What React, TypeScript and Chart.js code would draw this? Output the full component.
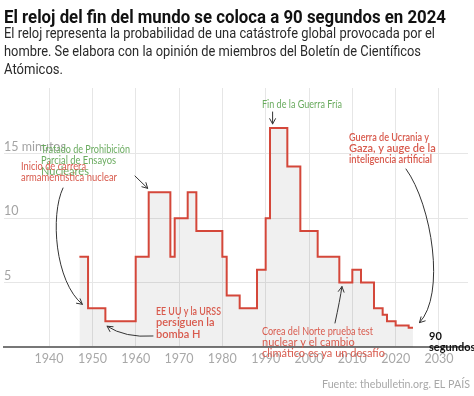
import React, { useEffect, useRef } from 'react';
import { Chart, registerables } from 'chart.js';
Chart.register(...registerables);

const years = [1947, 1949, 1953, 1960, 1963, 1968, 1969, 1972, 1974, 1980, 1981, 1984, 1988, 1990, 1991, 1995, 1998, 2002, 2007, 2010, 2012, 2015, 2017, 2018, 2020, 2023, 2024];
const minutes = [7, 3, 2, 7, 12, 7, 10, 12, 9, 7, 4, 3, 6, 10, 17, 14, 9, 7, 5, 6, 5, 3, 2.5, 2, 1.67, 1.5, 1.5];
const xTicks = [1940, 1950, 1960, 1970, 1980, 1990, 2000, 2010, 2020, 2030];
const yTicks = [5, 10, 15];
const yTickLabels = ['5', '10', '15 minutos'];

const TITLE = 'El reloj del fin del mundo se coloca a 90 segundos en 2024';
const SUBTITLE = [
  'El reloj representa la probabilidad de una catástrofe global provocada por el',
  'hombre. Se elabora con la opinión de miembros del Boletín de Científicos',
  'Atómicos.',
];
const SOURCE = 'Fuente: thebulletin.org. EL PAÍS';

const RED_LINE = '#d4473a';
const RED_TEXT = '#d85a4d';
const GREEN_TEXT = '#6aab5f';

function fitText(ctx: CanvasRenderingContext2D, text: string, x: number, y: number, targetW?: number) {
  if (!targetW) {
    ctx.fillText(text, x, y);
    return;
  }
  const w = ctx.measureText(text).width;
  ctx.save();
  ctx.translate(x, y);
  ctx.scale(targetW / w, 1);
  ctx.fillText(text, 0, 0);
  ctx.restore();
}

function arrowHead(ctx: CanvasRenderingContext2D, tx: number, ty: number, dx: number, dy: number) {
  const a = Math.atan2(dy, dx);
  const L = 6;
  const s = 0.5;
  ctx.beginPath();
  ctx.moveTo(tx - L * Math.cos(a - s), ty - L * Math.sin(a - s));
  ctx.lineTo(tx, ty);
  ctx.lineTo(tx - L * Math.cos(a + s), ty - L * Math.sin(a + s));
  ctx.stroke();
}

const annotationPlugin = {
  id: 'annotations',
  afterDraw(chart: any) {
    const ctx: CanvasRenderingContext2D = chart.ctx;
    const xs = chart.scales.x;
    const ys = chart.scales.y;
    const X = (v: number) => xs.getPixelForValue(v);
    const Y = (v: number) => ys.getPixelForValue(v);
    ctx.save();

    // Title & subtitle
    ctx.textAlign = 'left';
    ctx.textBaseline = 'alphabetic';
    ctx.fillStyle = '#111';
    ctx.font = 'bold 18px Roboto';
    fitText(ctx, TITLE, 4, 23, 442);
    ctx.fillStyle = '#2a2a2a';
    ctx.font = '14px Roboto';
    const subW = [431, 417, 59];
    SUBTITLE.forEach((t, i) => fitText(ctx, t, 4, 38 + i * 17.8, subW[i]));

    // y tick labels
    ctx.fillStyle = '#a3a3a3';
    ctx.font = '12.5px Lato';
    ctx.textBaseline = 'middle';
    yTicks.forEach((v, i) => ctx.fillText(yTickLabels[i], 4, Y(v) - 7));

    // annotation texts
    const block = (lines: string[], x: number, y0: number, color: string, font: string, widths?: (number | undefined)[]) => {
      ctx.fillStyle = color;
      ctx.font = font;
      ctx.textBaseline = 'middle';
      lines.forEach((t, i) => fitText(ctx, t, x, y0 + i * 11.4, widths ? widths[i] : undefined));
    };
    block(['Fin de la Guerra Fría'], 262, 104, GREEN_TEXT, '11px Lato', [80]);
    block(['Guerra de Ucrania y', 'Gaza, y auge de la', 'inteligencia artificial'], 349, 137, RED_TEXT, '600 11px Lato', [80, undefined, 83]);
    block(['Tratado de Prohibición', 'Parcial de Ensayos', 'Nucleares'], 41, 149, GREEN_TEXT, '11px Lato', [89, 75, undefined]);
    block(['Inicio de carrera', 'armamentística nuclear'], 21, 166, RED_TEXT, '11px Lato', [65, 96]);
    block(['EE UU y la URSS', 'persiguen la', 'bomba H'], 156, 311.5, RED_TEXT, '600 11px Lato', [65, undefined, undefined]);
    block(['Corea del Norte prueba test', 'nuclear y el cambio', 'climático es ya un desafío'], 262, 331, RED_TEXT, '11px Lato', [111, undefined, undefined]);

    ctx.fillStyle = '#111';
    ctx.font = 'bold 11px Lato';
    ctx.fillText('90', 429, 336);
    ctx.fillText('segundos', 429, 347.5);

    // arrows
    ctx.strokeStyle = '#333';
    ctx.lineWidth = 1;
    ctx.lineCap = 'round';
    ctx.lineJoin = 'round';
    {
      const tx = X(1991.6), ty = Y(17) - 4;
      ctx.beginPath(); ctx.moveTo(tx, 112); ctx.lineTo(tx, ty); ctx.stroke();
      arrowHead(ctx, tx, ty, 0, 1);
    }
    {
      const tx = X(1963) - 1, ty = Y(12) - 4;
      ctx.beginPath(); ctx.moveTo(135, 176); ctx.lineTo(tx, ty); ctx.stroke();
      arrowHead(ctx, tx, ty, tx - 135, ty - 176);
    }
    {
      const tx = X(1947) + 3, ty = Y(3) - 4;
      ctx.beginPath(); ctx.moveTo(63, 188); ctx.bezierCurveTo(50, 215, 55, 282, tx, ty); ctx.stroke();
      arrowHead(ctx, tx, ty, tx - 55, ty - 282);
    }
    {
      const tx = X(1953.4), ty = Y(2) + 5;
      ctx.beginPath(); ctx.moveTo(153, 336); ctx.quadraticCurveTo(125, 338, tx, ty); ctx.stroke();
      arrowHead(ctx, tx, ty, tx - 125, ty - 338);
    }
    {
      const tx = X(2007.6), ty = Y(5) + 4;
      ctx.beginPath(); ctx.moveTo(335, 323); ctx.quadraticCurveTo(340, 300, tx, ty); ctx.stroke();
      arrowHead(ctx, tx, ty, tx - 340, ty - 300);
    }
    {
      const tx = X(2025.5), ty = Y(1.5) - 5;
      ctx.beginPath(); ctx.moveTo(406, 169); ctx.bezierCurveTo(432, 205, 446, 295, tx, ty); ctx.stroke();
      arrowHead(ctx, tx, ty, tx - 446, ty - 295);
    }

    // source
    ctx.fillStyle = '#a8a8a8';
    ctx.font = '12px Lato';
    ctx.textBaseline = 'middle';
    fitText(ctx, SOURCE, 470 - 148, 384, 148);

    ctx.restore();
  },
};

export default function App() {
  const ref = useRef<HTMLCanvasElement>(null);
  useEffect(() => {
    if (!ref.current) return;
    const chart = new Chart(ref.current, {
      type: 'line',
      data: {
        datasets: [
          {
            data: years.map((y, i) => ({ x: y, y: minutes[i] })),
            borderColor: RED_LINE,
            borderWidth: 2,
            backgroundColor: 'rgba(0,0,0,0.06)',
            fill: 'origin',
            stepped: 'before',
            pointRadius: 0,
            tension: 0,
          },
        ],
      },
      options: {
        animation: false,
        responsive: false,
        devicePixelRatio: 1,
        layout: { padding: { left: 4, right: 6, top: 88, bottom: 29 } },
        plugins: { legend: { display: false }, tooltip: { enabled: false }, title: { display: false } },
        scales: {
          x: {
            type: 'linear',
            min: 1929.6,
            max: 2036.7,
            afterBuildTicks: (s: any) => {
              s.ticks = xTicks.map((v) => ({ value: v }));
            },
            afterFit: (s: any) => {
              s.height = 20;
            },
            ticks: {
              color: '#a8a8a8',
              font: { family: 'Lato', size: 12.5 },
              padding: 4,
              maxRotation: 0,
              autoSkip: false,
              callback: (v: any) => String(v),
            },
            grid: { color: '#e6e6e6', drawTicks: false, lineWidth: 1 },
            border: { display: true, color: '#777', width: 2 },
          },
          y: {
            min: 0,
            max: 20.1,
            afterBuildTicks: (s: any) => {
              s.ticks = yTicks.map((v) => ({ value: v }));
            },
            afterFit: (s: any) => {
              s.width = 0;
            },
            ticks: { display: false },
            grid: { color: '#e6e6e6', drawTicks: false, lineWidth: 1 },
            border: { display: false },
          },
        },
      },
      plugins: [annotationPlugin],
    });
    return () => chart.destroy();
  }, []);
  return (
    <div style={{ position: 'absolute', left: 0, top: 0, width: 474, height: 396, background: '#fff' }}>
      <canvas ref={ref} width={474} height={396} style={{ display: 'block' }} />
    </div>
  );
}
